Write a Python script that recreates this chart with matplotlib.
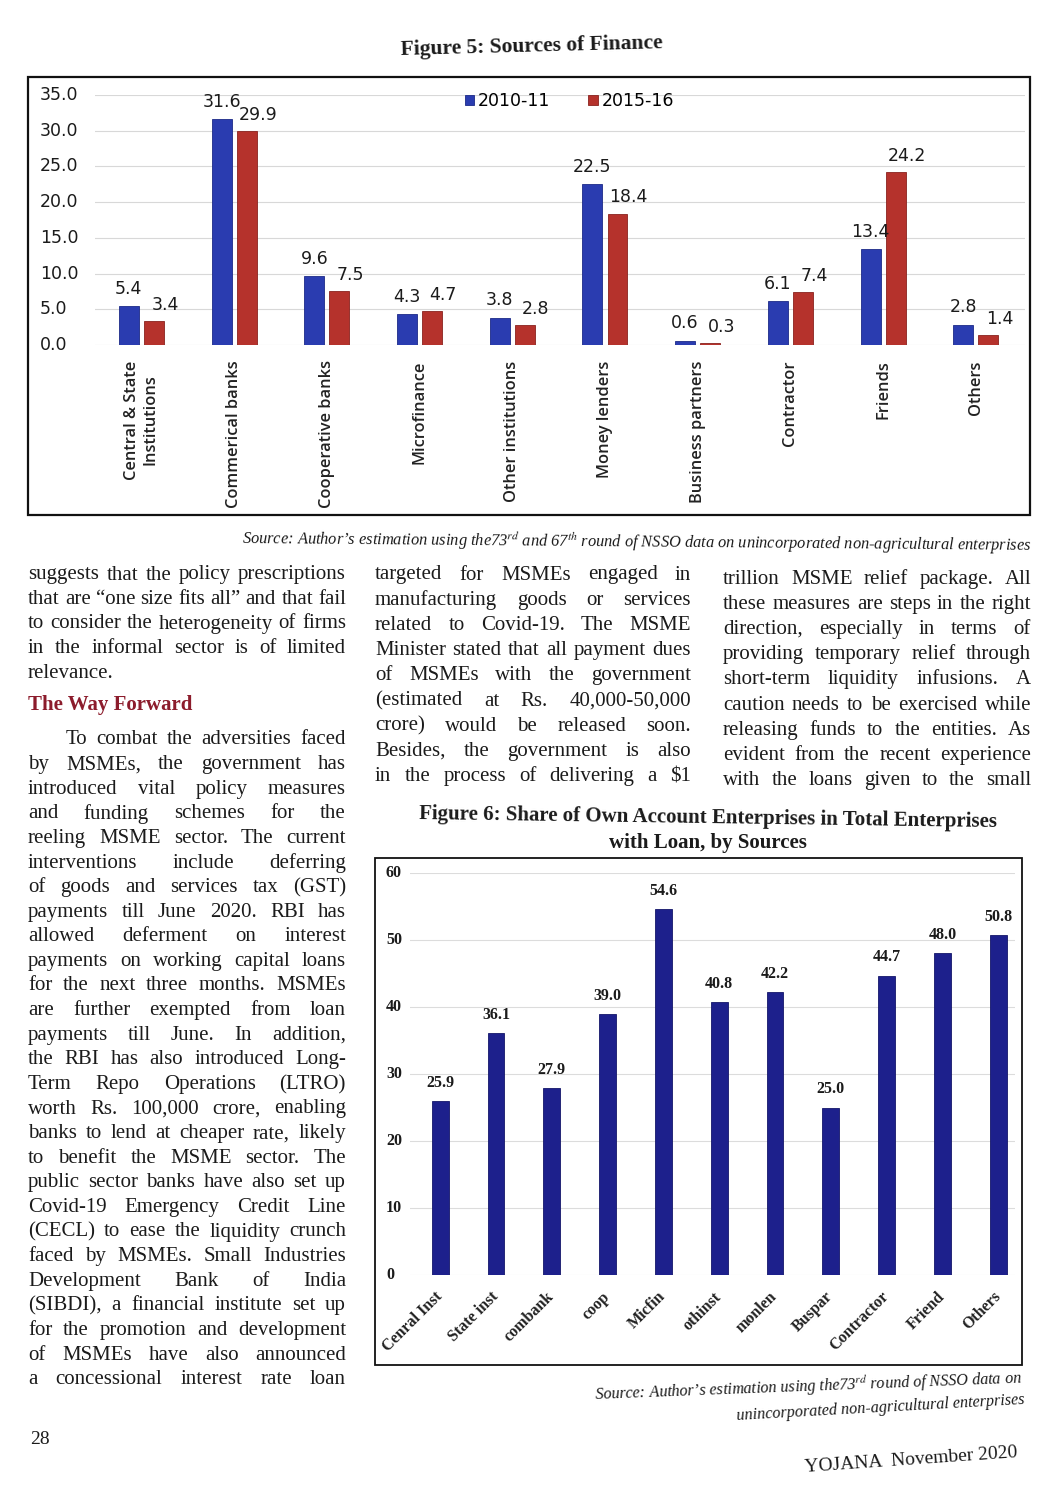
import numpy as np
import matplotlib
matplotlib.use("Agg")
from matplotlib import pyplot as plt
from matplotlib.patches import Rectangle
from matplotlib.transforms import blended_transform_factory

# ---- data: Figure 5 ----
fin_cats = ["Central & State\nInstitutions", "Commerical banks", "Cooperative banks",
            "Microfinance", "Other institutions", "Money lenders", "Business partners",
            "Contractor", "Friends", "Others"]
fin_2010 = [5.4, 31.6, 9.6, 4.3, 3.8, 22.5, 0.6, 6.1, 13.4, 2.8]
fin_2015 = [3.4, 29.9, 7.5, 4.7, 2.8, 18.4, 0.3, 7.4, 24.2, 1.4]
fin_yticks = [0, 5, 10, 15, 20, 25, 30, 35]

# ---- data: Figure 6 ----
loan_cats = ["Cenral Inst", "State inst", "combank", "coop", "Micfin", "othinst",
             "monlen", "Buspar", "Contractor", "Friend", "Others"]
loan_share = [25.9, 36.1, 27.9, 39.0, 54.6, 40.8, 42.2, 25.0, 44.7, 48.0, 50.8]
loan_yticks = [0, 10, 20, 30, 40, 50, 60]

# ---- body text ----
col1_a = ["suggests that the policy prescriptions",
          "that are \u201cone size fits all\u201d and that fail",
          "to consider the heterogeneity of firms",
          "in the informal sector is of limited",
          "relevance."]
col1_b = ["To combat the adversities faced",
          "by MSMEs, the government has",
          "introduced vital policy measures",
          "and funding schemes for the",
          "reeling MSME sector. The current",
          "interventions include deferring",
          "of goods and services tax (GST)",
          "payments till June 2020. RBI has",
          "allowed deferment on interest",
          "payments on working capital loans",
          "for the next three months. MSMEs",
          "are further exempted from loan",
          "payments till June. In addition,",
          "the RBI has also introduced Long-",
          "Term Repo Operations (LTRO)",
          "worth Rs. 100,000 crore, enabling",
          "banks to lend at cheaper rate, likely",
          "to benefit the MSME sector. The",
          "public sector banks have also set up",
          "Covid-19 Emergency Credit Line",
          "(CECL) to ease the liquidity crunch",
          "faced by MSMEs. Small Industries",
          "Development Bank of India",
          "(SIBDI), a financial institute set up",
          "for the promotion and development",
          "of MSMEs have also announced",
          "a concessional interest rate loan"]
col2 = ["targeted for MSMEs engaged in",
        "manufacturing goods or services",
        "related to Covid-19. The MSME",
        "Minister stated that all payment dues",
        "of MSMEs with the government",
        "(estimated at Rs. 40,000-50,000",
        "crore) would be released soon.",
        "Besides, the government is also",
        "in the process of delivering a $1"]
col3 = ["trillion MSME relief package. All",
        "these measures are steps in the right",
        "direction, especially in terms of",
        "providing temporary relief through",
        "short-term liquidity infusions. A",
        "caution needs to be exercised while",
        "releasing funds to the entities. As",
        "evident from the recent experience",
        "with the loans given to the small"]

plt.rcParams["mathtext.fontset"] = "stix"
W, H = 1058, 1497
fig = plt.figure(figsize=(W / 100, H / 100), dpi=100)
fig.patch.set_facecolor("white")

serif = "Liberation Serif"
narrow = ["Liberation Sans Narrow", "DejaVu Sans"]
ink = "#1b1b1b"


def fx(x):
    return x / W


def fy(y):
    return 1 - y / H


renderer = fig.canvas.get_renderer()


def put_line(x0, x1, y, text, size=15, justify=True):
    words = text.split()
    objs = [fig.text(0, fy(y), w, fontsize=size, family=serif, color=ink, va="center")
            for w in words]
    widths = [o.get_window_extent(renderer).width for o in objs]
    min_gap = 0.2 * size
    need = sum(widths) + min_gap * (len(words) - 1)
    if need > x1 - x0:
        k = (x1 - x0) / need
        for o in objs:
            o.set_fontsize(size * k)
        widths = [w * k for w in widths]
    if justify and len(words) > 1:
        gap = (x1 - x0 - sum(widths)) / (len(words) - 1)
    else:
        gap = 0.25 * size * 1.39
    x = x0
    for o, wd in zip(objs, widths):
        o.set_x(fx(x))
        x += wd + gap


# ================= Figure 5 =================
fig.text(fx(532), fy(47), "Figure 5: Sources of Finance", family=serif, fontsize=15.5,
         fontweight="bold", ha="center", va="center", color=ink, rotation=1.5)
fig.add_artist(Rectangle((fx(28), fy(515)), fx(1030) - fx(28), fy(77) - fy(515),
                         transform=fig.transFigure, fill=False, lw=1.6, ec="#111"))

ax5 = fig.add_axes([fx(95), fy(345), fx(1025) - fx(95), fy(95) - fy(345)])
x = np.arange(len(fin_cats))
off, bw = 0.135, 0.215
ax5.bar(x - off, fin_2010, bw, color="#2a3cb0", edgecolor="#1c2a88", lw=0.6, label="2010-11")
ax5.bar(x + off, fin_2015, bw, color="#b5322c", edgecolor="#8a221e", lw=0.6, label="2015-16")
ax5.set_xlim(-0.5, 9.53)
ax5.set_ylim(0, 35)
ax5.set_yticks(fin_yticks)
ax5.yaxis.grid(True, color="#d8d8d8", lw=0.8)
ax5.set_axisbelow(True)
for s in ax5.spines.values():
    s.set_visible(False)
ax5.tick_params(length=0)
ax5.set_yticklabels([])
tr5 = blended_transform_factory(fig.transFigure, ax5.transData)
for v in fin_yticks:
    ax5.text(fx(40), v, f"{v:.1f}", transform=tr5, family=narrow, fontsize=12.5,
             va="center", ha="left", color=ink)
ax5.set_xticks(x)
ax5.set_xticklabels(fin_cats, rotation=90, family="Open Sans", fontsize=11.8,
                    fontweight="semibold", va="top", ha="center",
                    multialignment="center", color="#222")
ax5.tick_params(axis="x", pad=11)
for i in range(len(fin_cats)):
    ax5.text(i - off, fin_2010[i] + 1.2, f"{fin_2010[i]:.1f}", ha="center", va="bottom",
             family=narrow, fontsize=12.5, color=ink)
    ax5.text(i + off + 0.12, fin_2015[i] + 1.0, f"{fin_2015[i]:.1f}", ha="center", va="bottom",
             family=narrow, fontsize=12.5, color=ink)
ax5.legend(loc="center", bbox_to_anchor=(0.51, 0.976), ncol=2, frameon=False,
           handlelength=0.55, handleheight=0.55, handletextpad=0.2, columnspacing=2.2,
           prop={"family": narrow, "size": 12.5})

fig.text(fx(1032), fy(541),
         "Source: Author\u2019s estimation using the73$^{rd}$ and 67$^{th}$ round of NSSO data on "
         "unincorporated non-agricultural enterprises",
         family=serif, style="italic", fontsize=11.8, ha="right", va="center", color=ink,
         rotation=-0.5)

# ================= Body text =================
L1, R1 = 28, 346
for i, line in enumerate(col1_a):
    put_line(L1, R1, 575 + i * 24.5, line, justify=(i < len(col1_a) - 1))
fig.text(fx(L1), fy(705), "The Way Forward", family=serif, fontsize=15, fontweight="bold",
         color="#8c1c2c", va="center")
for i, line in enumerate(col1_b):
    x0 = L1 + 38 if i == 0 else L1
    put_line(x0, R1, 740 + i * 24.6, line)

for i, line in enumerate(col2):
    put_line(375, 691, 575 + i * 25.2, line)
for i, line in enumerate(col3):
    put_line(723, 1031, 579 + i * 25.2, line)

# ================= Figure 6 =================
fig.text(fx(708), fy(818), "Figure 6: Share of Own Account Enterprises in Total Enterprises",
         family=serif, fontsize=15, fontweight="bold", ha="center", va="center", color=ink,
         rotation=-0.8)
fig.text(fx(708), fy(843), "with Loan, by Sources", family=serif, fontsize=15,
         fontweight="bold", ha="center", va="center", color=ink)
fig.add_artist(Rectangle((fx(375), fy(1365)), fx(1022) - fx(375), fy(858) - fy(1365),
                         transform=fig.transFigure, fill=False, lw=1.3, ec="#111"))

ax6 = fig.add_axes([fx(410), fy(1275), fx(1015) - fx(410), fy(873) - fy(1275)])
x6 = np.arange(len(loan_cats))
ax6.bar(x6, loan_share, 0.3, color="#1d208c", edgecolor="#14166a", lw=0.6)
ax6.set_xlim(-0.54, 10.3)
ax6.set_ylim(0, 60)
ax6.set_yticks(loan_yticks)
ax6.yaxis.grid(True, color="#dcdcdc", lw=0.8)
ax6.set_axisbelow(True)
for s in ax6.spines.values():
    s.set_visible(False)
ax6.tick_params(length=0)
ax6.set_yticklabels([])
tr6 = blended_transform_factory(fig.transFigure, ax6.transData)
for v in loan_yticks:
    ax6.text(fx(386), v, f"{v}", transform=tr6, family=serif, fontsize=11.5,
             fontweight="bold", va="center", ha="left", color=ink)
ax6.set_xticks(x6)
ax6.set_xticklabels(loan_cats, rotation=45, family=serif, fontsize=11.5, fontweight="bold",
                    ha="right", va="center", rotation_mode="anchor", color="#222")
ax6.tick_params(axis="x", pad=14)
for i, v in enumerate(loan_share):
    ax6.text(i, v + 1.5, f"{v:.1f}", ha="center", va="bottom", family=serif,
             fontsize=11.5, fontweight="bold", color=ink)

fig.text(fx(1022), fy(1386),
         "Source: Author\u2019s estimation using the73$^{rd}$ round of NSSO data on",
         family=serif, style="italic", fontsize=11.6, ha="right", va="center", color=ink,
         rotation=2.2)
fig.text(fx(1025), fy(1408), "unincorporated non-agricultural enterprises",
         family=serif, style="italic", fontsize=11.6, ha="right", va="center", color=ink,
         rotation=3.2)

# ================= Page footer =================
fig.text(fx(30), fy(1440), "28", family=serif, fontsize=14, va="center", color=ink)
fig.text(fx(805), fy(1468), "YOJANA  November 2020", family=serif, fontsize=14,
         va="center", ha="left", color=ink, rotation=4, rotation_mode="anchor")

fig.savefig("out.png", dpi=100)
